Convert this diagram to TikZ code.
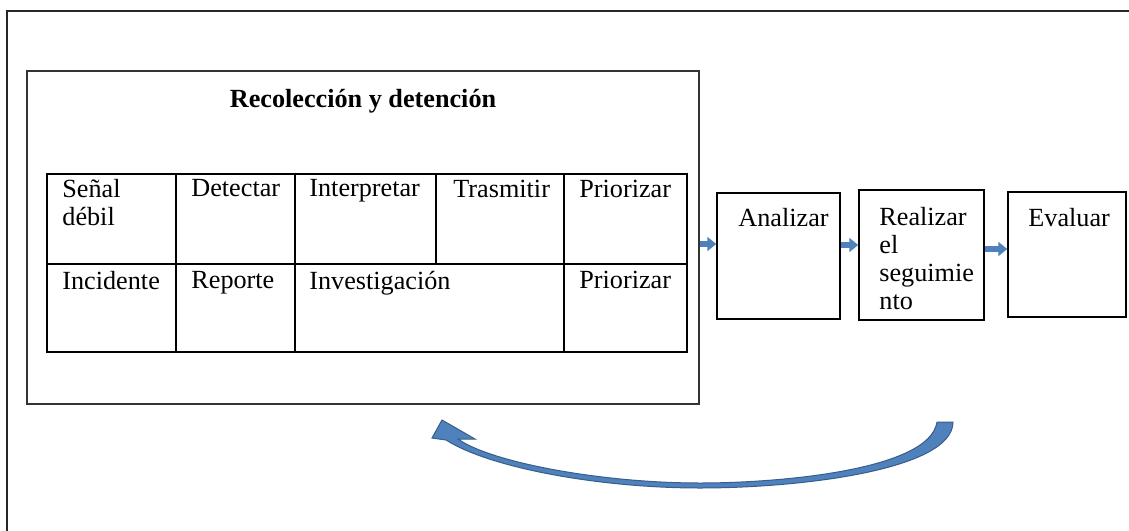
\documentclass[tikz,border=0pt]{standalone}
\usepackage{fontspec}
\setmainfont{Liberation Serif}
\usepackage{xcolor}
\usetikzlibrary{arrows.meta}
\usetikzlibrary{fit}
\definecolor{myblue}{RGB}{79,129,189}
\definecolor{myedge}{RGB}{56,93,138}

\begin{document}
\begin{tikzpicture}[x=0.5pt,y=-0.5pt,
  box/.style={draw, line width=0.75pt, inner sep=0pt},
  txt/.style={anchor=north west, inner sep=0pt, align=left, font=\fontsize{13.1}{14}\selectfont},
  link/.style={myblue, line width=3pt, -{Triangle[length=4.5pt,width=7pt]}}]
\useasboundingbox (0,0) rectangle (1129,530);
\clip (0,0) rectangle (1129,530);

% outer frame
\draw[line width=1pt, black!85] (7,11) rectangle (1160,560);

% recoleccion
\node[box, line width=0.6pt, draw=black!80, fit={(27,71) (699,404)}] (recol) {};
\node[anchor=base, inner sep=0pt, font=\fontsize{13.1}{14}\selectfont\bfseries] (title) at (363,107) {Recolección y detención};

\node[box, line width=1pt, fit={(47,174) (687,352)}] (tab) {};
\draw[line width=1pt] (tab.west |- 0,264) -- (tab.east |- 0,264);
\foreach \x in {176,295,564}
  \draw[line width=1pt] (\x,174) -- (\x,352);
\draw[line width=1pt] (436,174) -- (436,264);

\node[txt] (senal) at (62,179.3) {Señal\\débil};
\node[txt] (detectar) at (191,179.3) {Detectar};
\node[txt] (interp) at (309,179.3) {Interpretar};
\node[txt] (trasm) at (453,179.3) {Trasmitir};
\node[txt] (prio1) at (579,179.3) {Priorizar};
\node[txt] (incid) at (62,270.8) {Incidente};
\node[txt] (reporte) at (191,270.8) {Reporte};
\node[txt] (invest) at (309,270.8) {Investigación};
\node[txt] (prio2) at (579,270.8) {Priorizar};

% pasos
\node[box, fit={(717,193) (840,319)}] (ana) {};
\node[box, fit={(859,190) (984,320)}] (seg) {};
\node[box, fit={(1008,192) (1126,317)}] (eva) {};
\node[txt] (anatxt) at (738,208.3) {Analizar};
\node[txt] (segtxt) at (879,207.3) {Realizar\\el\\seguimie\\nto};
\node[txt] (evatxt) at (1028,208.3) {Evaluar};

\draw[link] (recol.east |- 0,244) -- (ana.west |- 0,244);
\draw[link] (ana.east |- 0,245) -- (seg.west |- 0,245);
\draw[link] (seg.east |- 0,249) -- (eva.west |- 0,249);

% vuelta
\filldraw[fill=myblue, draw=myedge, line width=0.5pt]
  (937,422) .. controls (930,470) and (780,483) .. (700,483)
  .. controls (600,483) and (490,462) .. (458,439)
  -- (475,439) -- (442,420) -- (432,438) -- (446,440)
  .. controls (490,468) and (600,488) .. (700,488)
  .. controls (800,488) and (953,470) .. (953,422) -- cycle;
\end{tikzpicture}
\end{document}
